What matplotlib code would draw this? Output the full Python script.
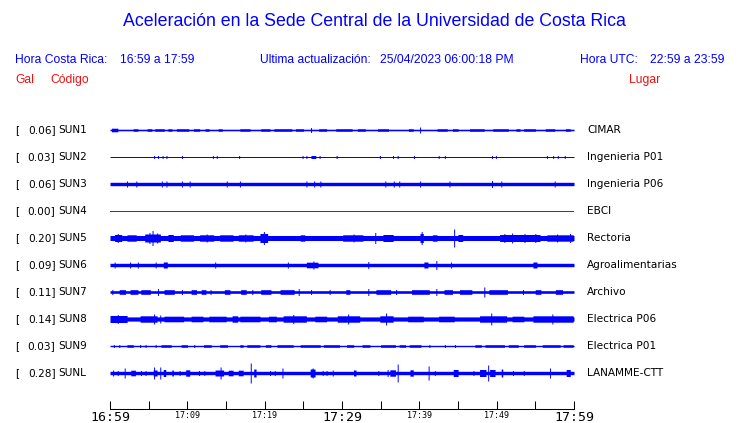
import numpy as np
import matplotlib
matplotlib.use("Agg")
import matplotlib.pyplot as plt

# Stations (top to bottom)
codes = ["SUN1", "SUN2", "SUN3", "SUN4", "SUN5", "SUN6", "SUN7", "SUN8", "SUN9", "SUNL"]
peak_gal = [0.06, 0.03, 0.06, 0.00, 0.20, 0.09, 0.11, 0.14, 0.03, 0.28]
places = ["CIMAR", "Ingenieria P01", "Ingenieria P06", "EBCI", "Rectoria",
          "Agroalimentarias", "Archivo", "Electrica P06", "Electrica P01", "LANAMME-CTT"]

# Background half-width of each trace (pixels)
base_amp = [0.8, 0.5, 1.7, 0.5, 2.5, 1.7, 1.3, 2.1, 0.7, 1.7]

# Bursts: (minute, amp) spikes or (start, end, amp) bursts
events = [
    # SUN1
    [(0.2, 1.0, 1.8), (3.0, 3.6, 1.3), (4.8, 5.4, 1.3), (5.8, 7.0, 1.3), (7.5, 8.0, 1.3),
     (8.6, 10.2, 1.3), (10.8, 11.6, 1.3), (12.3, 12.8, 1.3), (14.0, 14.5, 1.3),
     (16.8, 18.1, 1.3), (19.5, 20.7, 1.3), (21.2, 23.5, 1.3), (24.0, 25.0, 1.3),
     (26.0, 2.5), (27.0, 28.0, 1.3), (29.2, 31.3, 1.3), (32.0, 33.0, 1.3),
     (34.6, 36.0, 1.3), (38.6, 39.2, 1.3), (40.1, 3), (42.3, 43.6, 1.3),
     (44.3, 45.0, 1.3), (46.5, 48.4, 1.3), (49.5, 51.5, 1.3), (52.5, 53.0, 1.3),
     (53.5, 55.0, 1.3), (56.3, 57.5, 1.3), (58.9, 59.5, 1.3)],
    # SUN2
    [(5.7, 1.5), (6.2, 1.5), (6.8, 1.5), (7.3, 1.5), (9.3, 1.5), (13.3, 1.5), (13.8, 1.5),
     (16.7, 1.5), (24.9, 1.5), (25.4, 1.5), (26.0, 26.6, 1.5), (27.1, 1.5), (29.3, 1.5),
     (34.9, 1.5), (36.6, 1.5), (37.2, 1.5), (39.3, 1.5), (42.5, 1.5), (43.3, 1.5),
     (49.4, 1.5), (49.9, 1.5), (56.5, 1.5), (57.3, 1.5), (57.9, 1.5), (58.8, 1.5)],
    # SUN3
    [(2.2, 3), (3.4, 3), (6.7, 3), (7.3, 3), (9.3, 3), (10.3, 3), (15.1, 3), (16.8, 3),
     (25.4, 3), (26.4, 3), (27.2, 3), (35.6, 3), (36.7, 3), (37.4, 3), (40.1, 3),
     (43.9, 3), (49.4, 3.5), (50.6, 3), (57.5, 3)],
    # SUN4
    [],
    # SUN5
    [(0.6, 1.5, 3.5), (1.0, 4.5), (2.2, 3.4, 3.2), (4.5, 6.5, 4), (5.5, 7.5), (5.1, 5.5),
     (6.1, 5), (7.5, 8.2, 3.5), (9.1, 10.8, 3.2), (11.6, 13.4, 3.2), (12.5, 4),
     (14.2, 15.9, 3.2), (16.6, 18.5, 3.2), (17.5, 4), (19.4, 20.4, 4.5), (19.9, 6.5),
     (24.6, 25.2, 3.2), (30.1, 32.7, 3.2), (31.5, 4), (34.3, 5.5), (35.3, 36.6, 3.5),
     (40.1, 40.5, 4.5), (40.3, 6.5), (41.7, 42.3, 3.2), (44.5, 9), (45.0, 45.6, 3.5),
     (50.4, 55.6, 3.5), (51.0, 4.5), (52.0, 5), (53.6, 4.5), (55.0, 4.5),
     (56.5, 59.9, 3.2), (57.8, 4), (59.5, 4.5)],
    # SUN6
    [(0.6, 3), (2.6, 3), (3.6, 3), (5.9, 3), (6.9, 7.4, 3), (13.6, 3), (23.0, 3),
     (25.4, 26.9, 2.8), (26.3, 4), (33.4, 3.5), (40.6, 41.1, 3), (42.2, 4.5), (44.1, 3),
     (54.7, 55.2, 3)],
    # SUN7
    [(0.3, 2.5), (1.2, 2.0, 2.3), (2.6, 3.6, 2.3), (4.0, 5.2, 2.3), (6.2, 3.5), (7.0, 8.3, 2.3),
     (9.3, 2.5), (10.5, 11.2, 2.3), (11.8, 12.4, 2.3), (13.0, 2.5), (14.8, 15.5, 2.3),
     (16.9, 17.6, 2.3), (18.4, 2.5), (19.5, 20.8, 2.3), (22.0, 23.8, 2.3), (24.4, 3.5),
     (26.0, 2.5), (28.4, 2.5), (30.5, 31.0, 2.3), (33.4, 3.5), (34.4, 36.3, 2.3),
     (37.0, 2.5), (39.0, 41.3, 2.3), (42.2, 3.5), (43.2, 44.3, 2.3), (45.2, 46.8, 2.3),
     (48.4, 5), (49.0, 51.4, 2.3), (53.4, 2.5), (55.0, 55.7, 2.3), (57.6, 58.5, 2.3)],
    # SUN8
    [(0.0, 2.2, 3.5), (1.0, 4.5), (3.9, 6.1, 3.2), (5.7, 5), (6.5, 4), (7.0, 9.5, 2.8),
     (10.5, 12.0, 2.8), (12.8, 15.0, 2.8), (15.8, 16.5, 3.2), (16.8, 19.4, 2.8),
     (20.5, 21.5, 2.8), (22.4, 25.4, 3.2), (23.7, 4.5), (26.5, 28.0, 2.8),
     (29.4, 32.3, 3.2), (30.8, 5), (34.9, 36.6, 3.2), (35.7, 6), (38.5, 40.5, 2.8),
     (42.5, 44.5, 2.8), (47.8, 51.3, 3.2), (49.3, 6), (52.0, 53.5, 2.8),
     (54.7, 59.9, 3.2), (57.2, 5)],
    # SUN9
    [(0.5, 1.5), (1.2, 1.5), (2.2, 3.0, 1.3), (3.9, 1.5), (4.6, 1.5), (5.9, 1.5),
     (6.6, 7.9, 1.3), (9.2, 10.0, 1.3), (10.9, 1.5), (12.1, 13.1, 1.3), (14.2, 15.2, 1.3),
     (16.8, 17.2, 1.3), (17.7, 19.4, 1.3), (20.1, 20.8, 1.3), (21.6, 23.7, 1.3),
     (24.6, 27.2, 1.3), (27.6, 29.7, 1.3), (30.6, 31.5, 1.3), (32.6, 33.6, 1.3),
     (35.0, 36.9, 1.3), (37.4, 38.2, 1.3), (38.7, 40.2, 1.3), (41.3, 1.5), (43.3, 1.5),
     (44.6, 1.5), (47.2, 48.0, 1.3), (48.5, 51.0, 1.3), (51.5, 52.8, 1.3),
     (53.5, 55.0, 1.3), (55.9, 58.2, 1.3), (58.6, 59.9, 1.3)],
    # SUNL
    [(0.4, 3), (1.0, 2.5), (1.9, 5), (2.7, 3.3, 2.8), (4.0, 2.5), (4.6, 2.5),
     (5.6, 6.1, 3), (5.7, 6), (6.5, 6), (6.9, 7.2, 3.5), (8.0, 8.2, 3), (9.0, 2.5),
     (9.8, 10.3, 3.2), (11.5, 2.5), (12.2, 2.5), (13.6, 14.7, 3), (14.3, 6),
     (15.3, 15.9, 2.8), (16.6, 17.2, 2.8), (18.2, 10), (18.6, 18.9, 4), (20.7, 2.5),
     (21.3, 2.5), (22.3, 5), (25.9, 26.5, 4), (26.2, 5), (27.5, 2.5), (28.0, 2.5), (28.8, 3),
     (31.5, 31.8, 3), (34.7, 2.5), (35.9, 3.5), (36.2, 36.9, 3.2), (37.2, 9),
     (38.8, 39.2, 3.2), (41.2, 7), (42.0, 2.5), (44.4, 45.0, 3.5), (47.0, 2.5),
     (47.8, 48.6, 3.5), (48.9, 8), (49.1, 49.8, 3.5), (50.6, 50.8, 4), (52.1, 2.5),
     (53.5, 2.5), (56.9, 5), (59.0, 59.5, 3.5)],
]

# Time axis: minutes after 16:59, ticks every 5 minutes
tick_minutes = list(range(0, 61, 5))
tick_labels = ["16:59", "", "17:09", "", "17:19", "", "17:29", "", "17:39", "", "17:49", "", "17:59"]
big_labels = ["16:59", "17:29", "17:59"]

BLUE = "#0000ff"
RED = "#ee1111"
W, H = 740, 423


def fx(x):
    return x / W


def fy(y):
    return 1 - y / H


fig = plt.figure(figsize=(7.4, 4.23), dpi=100)
ax = fig.add_axes([fx(110), fy(409), fx(574) - fx(110), fy(110) - fy(409)])
ax.set_xlim(0, 60)
ax.set_ylim(409, 110)

t = np.linspace(0, 60, 2401)
row0, row_step = 130, 27
for i, code in enumerate(codes):
    yc = row0 + row_step * i
    env = np.full_like(t, base_amp[i])
    for ev in events[i]:
        if len(ev) == 2:
            s, e, a = ev[0] - 0.07, ev[0] + 0.07, ev[1]
        else:
            s, e, a = ev
        mask = (t >= s) & (t <= e)
        env[mask] = np.maximum(env[mask], a)
    if code == "SUN4":
        ax.plot([0, 60], [yc, yc], color="#dd0000", linewidth=0.75)
    else:
        ax.fill_between(t, yc - env, yc + env, color=BLUE, linewidth=0, step="mid")

    fig.text(fx(15), fy(yc), "[", fontsize=7.6, va="center", ha="left")
    fig.text(fx(55.5), fy(yc), f"{peak_gal[i]:.2f}]", fontsize=7.6, va="center", ha="right")
    fig.text(fx(58), fy(yc), code, fontsize=7.6, va="center", ha="left")
    fig.text(fx(587), fy(yc), places[i], fontsize=7.6, va="center", ha="left")

for side in ["top", "left", "right"]:
    ax.spines[side].set_visible(False)
ax.spines["bottom"].set_linewidth(0.75)
ax.set_yticks([])
ax.set_xticks(tick_minutes)
ax.set_xticklabels(tick_labels)
ax.tick_params(axis="x", direction="in", length=6, width=0.75, pad=1.5)
for lab in ax.get_xticklabels():
    lab.set_family("DejaVu Sans Mono")
    lab.set_fontsize(9.5 if lab.get_text() in big_labels else 6)

# Header
head = dict(family="Liberation Sans", fontsize=8.7, va="center", ha="left")
fig.text(fx(374), fy(22), "Aceleración en la Sede Central de la Universidad de Costa Rica",
         family="Liberation Sans", fontsize=12.8, color=BLUE, ha="center", va="center")
fig.text(fx(15), fy(60), "Hora Costa Rica:", color=BLUE, **head)
fig.text(fx(120), fy(60), "16:59 a 17:59", color=BLUE, **head)
fig.text(fx(260), fy(60), "Ultima actualización:", color=BLUE, **head)
fig.text(fx(380), fy(60), "25/04/2023 06:00:18 PM", color=BLUE, **head)
fig.text(fx(580), fy(60), "Hora UTC:", color=BLUE, **head)
fig.text(fx(650), fy(60), "22:59 a 23:59", color=BLUE, **head)
fig.text(fx(15), fy(80), "Gal", color=RED, **head)
fig.text(fx(50), fy(80), "Código", color=RED, **head)
fig.text(fx(629), fy(80), "Lugar", color=RED, **head)

fig.savefig("out.png", dpi=100)
